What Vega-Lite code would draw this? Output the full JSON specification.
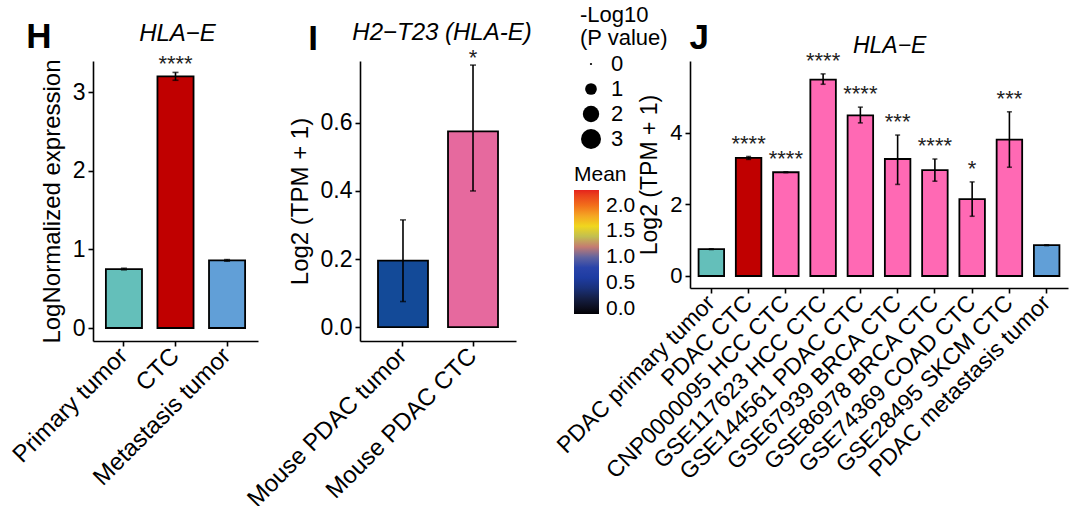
{
  "$schema": "https://vega.github.io/schema/vega-lite/v6.json",
  "background": "white",
  "padding": {"left": 8, "top": 5, "right": 5, "bottom": 5},
  "config": {
    "view": {"stroke": null},
    "font": "Liberation Sans",
    "axis": {
      "grid": false,
      "domainColor": "black",
      "domainWidth": 1.6,
      "tickColor": "black",
      "tickWidth": 1.6,
      "tickSize": 5,
      "labelColor": "black",
      "labelFont": "Liberation Sans",
      "labelFontSize": 23,
      "labelPadding": 3,
      "labelOverlap": false,
      "labelLimit": 400,
      "labelFlush": false,
      "titleFont": "Liberation Sans",
      "titleFontSize": 24,
      "titleFontWeight": "normal",
      "titleColor": "black",
      "titlePadding": 8
    },
    "legend": {
      "titleFont": "Liberation Sans",
      "titleFontSize": 22,
      "titleFontWeight": "normal",
      "titleColor": "black",
      "labelFont": "Liberation Sans",
      "labelFontSize": 22,
      "labelColor": "black",
      "labelOverlap": false,
      "padding": 0
    }
  },
  "bounds": "flush",
  "spacing": 102,
  "resolve": {"scale": {"color": "independent", "size": "independent", "x": "independent", "y": "independent"}},
  "hconcat": [
    {
      "width": 165,
      "height": 280,
      "data": {"values": [
        {"group": "Primary tumor", "value": 0.75, "lo": 0.74, "hi": 0.76, "sig": ""},
        {"group": "CTC", "value": 3.2, "lo": 3.15, "hi": 3.25, "sig": "****"},
        {"group": "Metastasis tumor", "value": 0.86, "lo": 0.85, "hi": 0.87, "sig": ""}
      ]},
      "encoding": {
        "x": {"field": "group", "type": "nominal", "sort": null,
          "scale": {"paddingInner": 0.3, "paddingOuter": 0.25},
          "axis": {"title": null, "labelAngle": -45, "labelAlign": "right", "labelBaseline": "middle", "labelPadding": 6, "labelFontSize": 24}}
      },
      "layer": [
        {
          "mark": {"type": "bar", "stroke": "black", "strokeWidth": 1.8},
          "encoding": {
            "y": {"field": "value", "type": "quantitative", "title": "LogNormalized expression",
              "scale": {"domain": [-0.165, 3.395], "nice": false, "zero": false},
              "axis": {"values": [0, 1, 2, 3], "format": "d"}},
            "y2": {"datum": 0},
            "color": {"field": "group", "type": "nominal", "legend": null,
              "scale": {"domain": ["Primary tumor", "CTC", "Metastasis tumor"], "range": ["#64BFBA", "#C00000", "#619FD7"]}}
          }
        },
        {
          "mark": {"type": "rule", "color": "black", "strokeWidth": 1.6},
          "encoding": {"y": {"field": "lo", "type": "quantitative", "title": "LogNormalized expression"}, "y2": {"field": "hi"}}
        },
        {
          "mark": {"type": "tick", "color": "black", "thickness": 1.6, "size": 6},
          "encoding": {"y": {"field": "lo", "type": "quantitative", "title": "LogNormalized expression"}}
        },
        {
          "mark": {"type": "tick", "color": "black", "thickness": 1.6, "size": 6},
          "encoding": {"y": {"field": "hi", "type": "quantitative", "title": "LogNormalized expression"}}
        },
        {
          "mark": {"type": "text", "fontSize": 22, "baseline": "alphabetic", "dy": -1, "color": "#222222"},
          "encoding": {"y": {"field": "hi", "type": "quantitative", "title": "LogNormalized expression"}, "text": {"field": "sig"}}
        },
        {
          "data": {"values": [{"label": "HLA−E"}]},
          "mark": {"type": "text", "fontSize": 24, "fontStyle": "italic", "baseline": "alphabetic", "align": "center", "dx": 2, "dy": -20, "color": "black"},
          "encoding": {"x": {"datum": "CTC"}, "y": {"datum": 3.395}, "text": {"field": "label"}}
        },
        {
          "data": {"values": [{"label": "H"}]},
          "mark": {"type": "text", "fontSize": 35, "fontWeight": "bold", "baseline": "alphabetic", "align": "center", "dx": -85, "dy": -13, "color": "black"},
          "encoding": {"x": {"datum": "Primary tumor"}, "y": {"datum": 3.395}, "text": {"field": "label"}}
        }
      ]
    },
    {
      "width": 156,
      "height": 280,
      "data": {"values": [
        {"group": "Mouse PDAC tumor", "value": 0.195, "lo": 0.075, "hi": 0.315, "sig": ""},
        {"group": "Mouse  PDAC CTC", "value": 0.575, "lo": 0.4, "hi": 0.77, "sig": "*"}
      ]},
      "encoding": {
        "x": {"field": "group", "type": "nominal", "sort": null,
          "scale": {"paddingInner": 0.286, "paddingOuter": 0.257},
          "axis": {"title": null, "labelAngle": -45, "labelAlign": "right", "labelBaseline": "middle", "labelPadding": 6, "labelFontSize": 24}}
      },
      "resolve": {"scale": {"color": "independent", "size": "independent"}},
      "layer": [
        {
          "mark": {"type": "bar", "stroke": "black", "strokeWidth": 1.8},
          "encoding": {
            "y": {"field": "value", "type": "quantitative", "title": "Log2 (TPM + 1)",
              "scale": {"domain": [-0.041, 0.782], "nice": false, "zero": false},
              "axis": {"values": [0, 0.2, 0.4, 0.6], "format": ".1f"}},
            "y2": {"datum": 0},
            "color": {"field": "group", "type": "nominal", "legend": null,
              "scale": {"domain": ["Mouse PDAC tumor", "Mouse  PDAC CTC"], "range": ["#134A98", "#E6699E"]}}
          }
        },
        {
          "mark": {"type": "rule", "color": "black", "strokeWidth": 1.6},
          "encoding": {"y": {"field": "lo", "type": "quantitative", "title": "Log2 (TPM + 1)"}, "y2": {"field": "hi"}}
        },
        {
          "mark": {"type": "tick", "color": "black", "thickness": 1.6, "size": 6},
          "encoding": {"y": {"field": "lo", "type": "quantitative", "title": "Log2 (TPM + 1)"}}
        },
        {
          "mark": {"type": "tick", "color": "black", "thickness": 1.6, "size": 6},
          "encoding": {"y": {"field": "hi", "type": "quantitative", "title": "Log2 (TPM + 1)"}}
        },
        {
          "mark": {"type": "text", "fontSize": 22, "baseline": "alphabetic", "dy": 0, "color": "#222222"},
          "encoding": {"y": {"field": "hi", "type": "quantitative", "title": "Log2 (TPM + 1)"}, "text": {"field": "sig"}}
        },
        {
          "data": {"values": [{"label": "H2−T23 (HLA-E)"}]},
          "mark": {"type": "text", "fontSize": 24, "fontStyle": "italic", "baseline": "alphabetic", "align": "center", "dx": 39, "dy": -21, "color": "black"},
          "encoding": {"x": {"datum": "Mouse PDAC tumor"}, "y": {"datum": 0.782}, "text": {"field": "label"}}
        },
        {
          "data": {"values": [{"label": "I"}]},
          "mark": {"type": "text", "fontSize": 35, "fontWeight": "bold", "baseline": "alphabetic", "align": "center", "dx": -90, "dy": -11, "color": "black"},
          "encoding": {"x": {"datum": "Mouse PDAC tumor"}, "y": {"datum": 0.782}, "text": {"field": "label"}}
        },
        {
          "data": {"values": []},
          "mark": {"type": "circle", "opacity": 1},
          "encoding": {
            "size": {"field": "logp", "type": "quantitative", "title": ["-Log10", "(P value)"],
              "scale": {"domain": [0, 3], "range": [5, 400]},
              "legend": {"orient": "none", "legendX": 220, "legendY": -56, "values": [0, 1, 2, 3], "format": "d",
                "symbolFillColor": "black", "symbolStrokeWidth": 0, "symbolOpacity": 1, "symbolType": "circle",
                "titleLineHeight": 23, "titlePadding": 3, "rowPadding": 3, "labelOffset": 9}},
            "color": {"field": "mean", "type": "quantitative", "title": "Mean",
              "scale": {"domain": [-0.1, 0.1, 0.3, 0.55, 0.8, 1.05, 1.3, 1.55, 1.8, 2.05, 2.3],
                "range": ["#000005", "#10152a", "#1a2a62", "#1a3aa0", "#2a44aa", "#6c6c9c", "#a8a860", "#ece224", "#f5a623", "#f0601e", "#e5231c"]},
              "legend": {"orient": "none", "legendX": 214, "legendY": 103, "type": "gradient", "values": [0, 0.5, 1, 1.5, 2], "format": ".1f",
                "gradientLength": 124, "gradientThickness": 25, "gradientStrokeWidth": 0, "gradientOpacity": 1, "titlePadding": 5, "labelOffset": 7, "titleFontSize": 21, "labelFontSize": 21, "labelBaseline": "middle"}}
          }
        }
      ]
    },
    {
      "width": 450,
      "height": 227,
      "data": {"values": [
        {"group": "PDAC primary tumor", "value": 0.75, "lo": 0.74, "hi": 0.76, "sig": ""},
        {"group": "PDAC CTC", "value": 3.3, "lo": 3.26, "hi": 3.34, "sig": "****"},
        {"group": "CNP0000095 HCC CTC", "value": 2.9, "lo": 2.89, "hi": 2.91, "sig": "****"},
        {"group": "GSE117623 HCC CTC", "value": 5.49, "lo": 5.36, "hi": 5.65, "sig": "****"},
        {"group": "GSE144561 PDAC CTC", "value": 4.49, "lo": 4.28, "hi": 4.72, "sig": "****"},
        {"group": "GSE67939 BRCA CTC", "value": 3.27, "lo": 2.56, "hi": 3.94, "sig": "***"},
        {"group": "GSE86978 BRCA CTC", "value": 2.96, "lo": 2.65, "hi": 3.27, "sig": "****"},
        {"group": "GSE74369 COAD CTC", "value": 2.15, "lo": 1.67, "hi": 2.63, "sig": "*"},
        {"group": "GSE28495 SKCM CTC", "value": 3.81, "lo": 3.04, "hi": 4.59, "sig": "***"},
        {"group": "PDAC metastasis tumor", "value": 0.86, "lo": 0.85, "hi": 0.87, "sig": ""}
      ]},
      "encoding": {
        "x": {"field": "group", "type": "nominal", "sort": null,
          "scale": {"paddingInner": 0.315, "paddingOuter": 0.23, "range": [72, 450]},
          "axis": {"title": null, "labelAngle": -45, "labelAlign": "right", "labelBaseline": "middle", "labelPadding": 6, "labelFontSize": 23}}
      },
      "layer": [
        {
          "mark": {"type": "bar", "stroke": "black", "strokeWidth": 1.8},
          "encoding": {
            "y": {"field": "value", "type": "quantitative", "title": "Log2 (TPM + 1)",
              "scale": {"domain": [-0.336, 6.01], "nice": false, "zero": false},
              "axis": {"values": [0, 2, 4], "format": "d", "labelFontSize": 22, "titleFontSize": 23, "offset": -72}},
            "y2": {"datum": 0},
            "color": {"field": "group", "type": "nominal", "legend": null,
              "scale": {"domain": ["PDAC primary tumor", "PDAC CTC", "CNP0000095 HCC CTC", "GSE117623 HCC CTC", "GSE144561 PDAC CTC", "GSE67939 BRCA CTC", "GSE86978 BRCA CTC", "GSE74369 COAD CTC", "GSE28495 SKCM CTC", "PDAC metastasis tumor"],
                "range": ["#64BFBA", "#C00000", "#FF69B4", "#FF69B4", "#FF69B4", "#FF69B4", "#FF69B4", "#FF69B4", "#FF69B4", "#619FD7"]}}
          }
        },
        {
          "mark": {"type": "rule", "color": "black", "strokeWidth": 1.6},
          "encoding": {"y": {"field": "lo", "type": "quantitative", "title": "Log2 (TPM + 1)"}, "y2": {"field": "hi"}}
        },
        {
          "mark": {"type": "tick", "color": "black", "thickness": 1.6, "size": 5},
          "encoding": {"y": {"field": "lo", "type": "quantitative", "title": "Log2 (TPM + 1)"}}
        },
        {
          "mark": {"type": "tick", "color": "black", "thickness": 1.6, "size": 5},
          "encoding": {"y": {"field": "hi", "type": "quantitative", "title": "Log2 (TPM + 1)"}}
        },
        {
          "mark": {"type": "text", "fontSize": 22, "baseline": "alphabetic", "dy": -6, "color": "#222222"},
          "encoding": {"y": {"field": "hi", "type": "quantitative", "title": "Log2 (TPM + 1)"}, "text": {"field": "sig"}}
        },
        {
          "data": {"values": [{"label": "HLA−E"}]},
          "mark": {"type": "text", "fontSize": 23, "fontStyle": "italic", "baseline": "alphabetic", "align": "center", "dx": -8, "dy": -8, "color": "black"},
          "encoding": {"x": {"datum": "GSE67939 BRCA CTC"}, "y": {"datum": 6.01}, "text": {"field": "label"}}
        },
        {
          "data": {"values": [{"label": "J"}]},
          "mark": {"type": "text", "fontSize": 35, "fontWeight": "bold", "baseline": "alphabetic", "align": "center", "dx": -12, "dy": -12, "color": "black"},
          "encoding": {"x": {"datum": "PDAC primary tumor"}, "y": {"datum": 6.01}, "text": {"field": "label"}}
        }
      ]
    }
  ]
}
